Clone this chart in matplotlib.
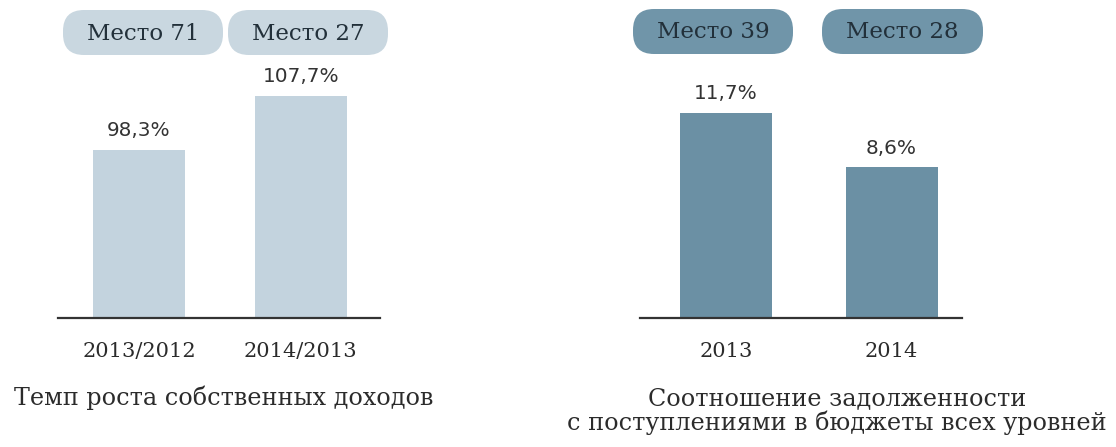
import matplotlib
matplotlib.use('Agg')

import matplotlib.pyplot as plt
from matplotlib.patches import FancyBboxPatch

# left chart: growth rate of own revenue
left_cats = ["2013/2012", "2014/2013"]
left_vals = [98.3, 107.7]
left_labels = ["98,3%", "107,7%"]
left_ranks = ["Место 71", "Место 27"]
left_title = "Темп роста собственных доходов"

# right chart: debt to budget revenue ratio
right_cats = ["2013", "2014"]
right_vals = [11.7, 8.6]
right_labels = ["11,7%", "8,6%"]
right_ranks = ["Место 39", "Место 28"]
right_title = "Соотношение задолженности\nс поступлениями в бюджеты всех уровней"

W, H = 1116, 447
light = "#c3d3de"
dark = "#6b90a4"
pill_light = "#c9d7e0"
pill_dark = "#7095a9"
textc = "#2b2b2b"
serif = "DejaVu Serif"

fig = plt.figure(figsize=(W / 100, H / 100), dpi=100)


def px_axes(x0, x1, ytop, ybot):
    return fig.add_axes([x0 / W, 1 - ybot / H, (x1 - x0) / W, (ybot - ytop) / H])


def draw_bars(ax, cats, vals, labels, color, ylim, xlim, width):
    xs = range(len(cats))
    ax.bar(xs, vals, width=width, color=color, bottom=0)
    ax.set_ylim(*ylim)
    ax.set_xlim(*xlim)
    for x, v, lab in zip(xs, vals, labels):
        ax.annotate(lab, (x, v), xytext=(0, 7), textcoords="offset points",
                    ha="center", va="bottom", fontsize=14.4, color="#333333",
                    family="DejaVu Sans")
    ax.set_xticks(list(xs))
    ax.set_xticklabels(cats, fontsize=15, family=serif, color=textc)
    ax.tick_params(axis="x", length=0, pad=17)
    ax.set_yticks([])
    for s in ["top", "left", "right"]:
        ax.spines[s].set_visible(False)
    ax.spines["bottom"].set_color("#333333")
    ax.spines["bottom"].set_linewidth(1.6)
    ax.patch.set_alpha(0)


ax1 = px_axes(58, 380, 60, 318)
draw_bars(ax1, left_cats, left_vals, left_labels, light, (69, 113.9), (-0.5, 1.49), 0.568)

ax2 = px_axes(640, 962, 60, 318)
draw_bars(ax2, right_cats, right_vals, right_labels, dark, (0, 14.74), (-0.52, 1.426), 0.556)

# overlay in pixel coordinates for the rank pills and titles
ov = fig.add_axes([0, 0, 1, 1])
ov.set_xlim(0, W)
ov.set_ylim(H, 0)
ov.axis("off")
ov.patch.set_alpha(0)

pill_boxes = [(63, 10, 160, 45), (228, 10, 160, 45), (633, 9, 160, 45), (822, 9, 161, 45)]
pill_texts = left_ranks + right_ranks
pill_cols = [pill_light, pill_light, pill_dark, pill_dark]
for (x, y, w, h), t, c in zip(pill_boxes, pill_texts, pill_cols):
    p = FancyBboxPatch((x, y), w, h, boxstyle="round,pad=0,rounding_size=21",
                       fc=c, ec="none")
    ov.add_patch(p)
    ov.text(x + w / 2, y + h / 2 + 1, t, ha="center", va="center", fontsize=16.5,
            family=serif, color="#22303a")

ov.text(224, 398, left_title, ha="center", va="center", fontsize=17.2,
        family=serif, color=textc)
ov.text(837, 411, right_title, ha="center", va="center", fontsize=17.2,
        family=serif, color=textc, linespacing=1.0)

fig.savefig("out.png", dpi=100)
